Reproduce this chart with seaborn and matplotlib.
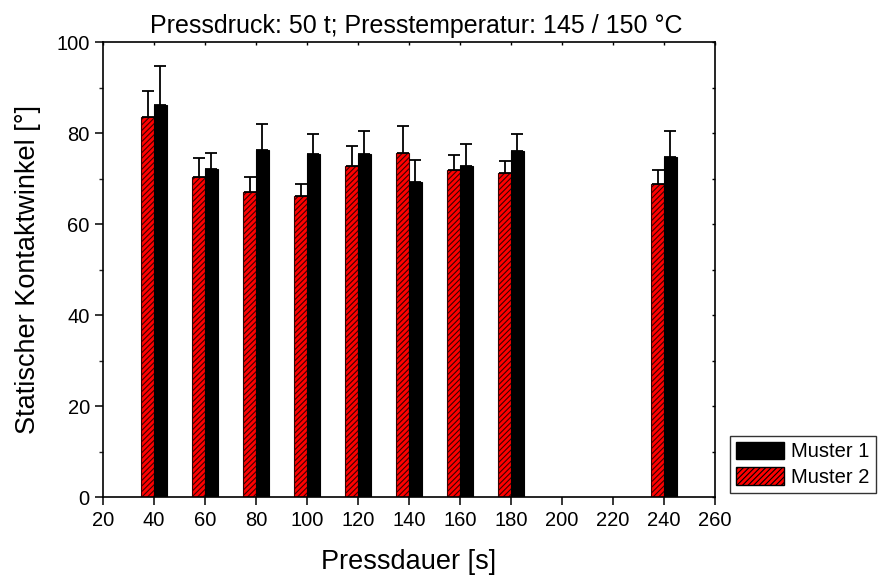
import matplotlib
matplotlib.use("Agg")
import matplotlib.pyplot as plt
import seaborn as sns
import pandas as pd
import numpy as np
from matplotlib.patches import Patch
from matplotlib.ticker import MultipleLocator

sns.set_style("white")
plt.rcParams['font.family'] = ['Liberation Sans', 'DejaVu Sans']
plt.rcParams['hatch.linewidth'] = 0.8
plt.rcParams['text.color'] = 'black'
plt.rcParams['axes.labelcolor'] = 'black'

pressdauer = [40, 60, 80, 100, 120, 140, 160, 180, 240]
muster1 = [86.3, 72.2, 76.3, 75.5, 75.4, 69.2, 72.8, 76.1, 74.9]
muster1_err = [8.6, 3.5, 5.8, 4.4, 5.1, 5.0, 4.9, 3.8, 5.5]
muster2 = [83.5, 70.5, 67.2, 66.3, 72.9, 75.7, 71.9, 71.3, 68.9]
muster2_err = [5.7, 4.0, 3.1, 2.5, 4.4, 6.0, 3.4, 2.7, 3.1]

df = pd.DataFrame({
    "Pressdauer": pressdauer * 2,
    "Wert": muster2 + muster1,
    "Fehler": muster2_err + muster1_err,
    "Muster": ["Muster 2"] * len(pressdauer) + ["Muster 1"] * len(pressdauer),
})

fig = plt.figure(figsize=(8.79, 5.77), dpi=100)
ax = fig.add_axes([0.1172, 0.1381, 0.6962, 0.7886])

palette = {"Muster 2": "#ff0000", "Muster 1": "#000000"}
sns.barplot(data=df, x="Pressdauer", y="Wert", hue="Muster",
            hue_order=["Muster 2", "Muster 1"], palette=palette,
            native_scale=True, width=0.5, errorbar=None, saturation=1,
            edgecolor="black", linewidth=0.8, legend=False, ax=ax)

bars = [p for p in ax.patches]
n = len(pressdauer)
for i, p in enumerate(bars):
    if i < n:
        p.set_hatch("//////")
        p.set_edgecolor("#3a0000")
xs = [p.get_x() + p.get_width() / 2 for p in bars]
ys = [p.get_height() for p in bars]
errs = list(df["Fehler"])
ax.errorbar(xs, ys, yerr=[np.zeros(len(errs)), errs], fmt="none",
            ecolor="black", elinewidth=1.3, capsize=4.5, capthick=1.3, zorder=3)

ax.set_xlim(20, 260)
ax.set_ylim(0, 100)
ax.xaxis.set_major_locator(MultipleLocator(20))
ax.yaxis.set_major_locator(MultipleLocator(20))
ax.yaxis.set_minor_locator(MultipleLocator(10))
for s in ax.spines.values():
    s.set_visible(True)
    s.set_color("black")
    s.set_linewidth(1.2)

ax.tick_params(axis="both", which="major", direction="out", length=6, width=1.1,
               labelsize=14.5, color="black", labelcolor="black",
               bottom=True, left=True, top=False, right=False)
ax.tick_params(axis="y", which="minor", direction="out", length=3, width=1.0,
               left=True, right=False)

top = ax.secondary_xaxis("top")
top.xaxis.set_major_locator(MultipleLocator(20))
top.tick_params(direction="in", length=2.5, width=1.0, labeltop=False, color="black")
top.spines["top"].set_visible(False)
right = ax.secondary_yaxis("right")
right.yaxis.set_major_locator(MultipleLocator(20))
right.yaxis.set_minor_locator(MultipleLocator(10))
right.tick_params(which="both", direction="in", length=2.5, width=1.0,
                  labelright=False, color="black")
right.spines["right"].set_visible(False)

ax.set_xlabel("Pressdauer [s]", fontsize=19.5, labelpad=14)
ax.set_ylabel("Statischer Kontaktwinkel [°]", fontsize=19.5, labelpad=11)
ax.set_title("Pressdruck: 50 t; Presstemperatur: 145 / 150 °C", fontsize=18, pad=7, x=0.512)

handles = [Patch(facecolor="black", edgecolor="black", label="Muster 1"),
           Patch(facecolor="#ff0000", edgecolor="black", hatch="//////", label="Muster 2")]
leg = fig.legend(handles=handles, loc="lower left", bbox_to_anchor=(0.8305, 0.1456),
                 fontsize=14.5, frameon=True, fancybox=False, handlelength=2.4,
                 handleheight=0.95, handletextpad=0.35, borderpad=0.3, labelspacing=0.3,
                 borderaxespad=0)
leg.get_frame().set_edgecolor("black")
leg.get_frame().set_linewidth(1.0)

fig.savefig("out.png", dpi=100)
